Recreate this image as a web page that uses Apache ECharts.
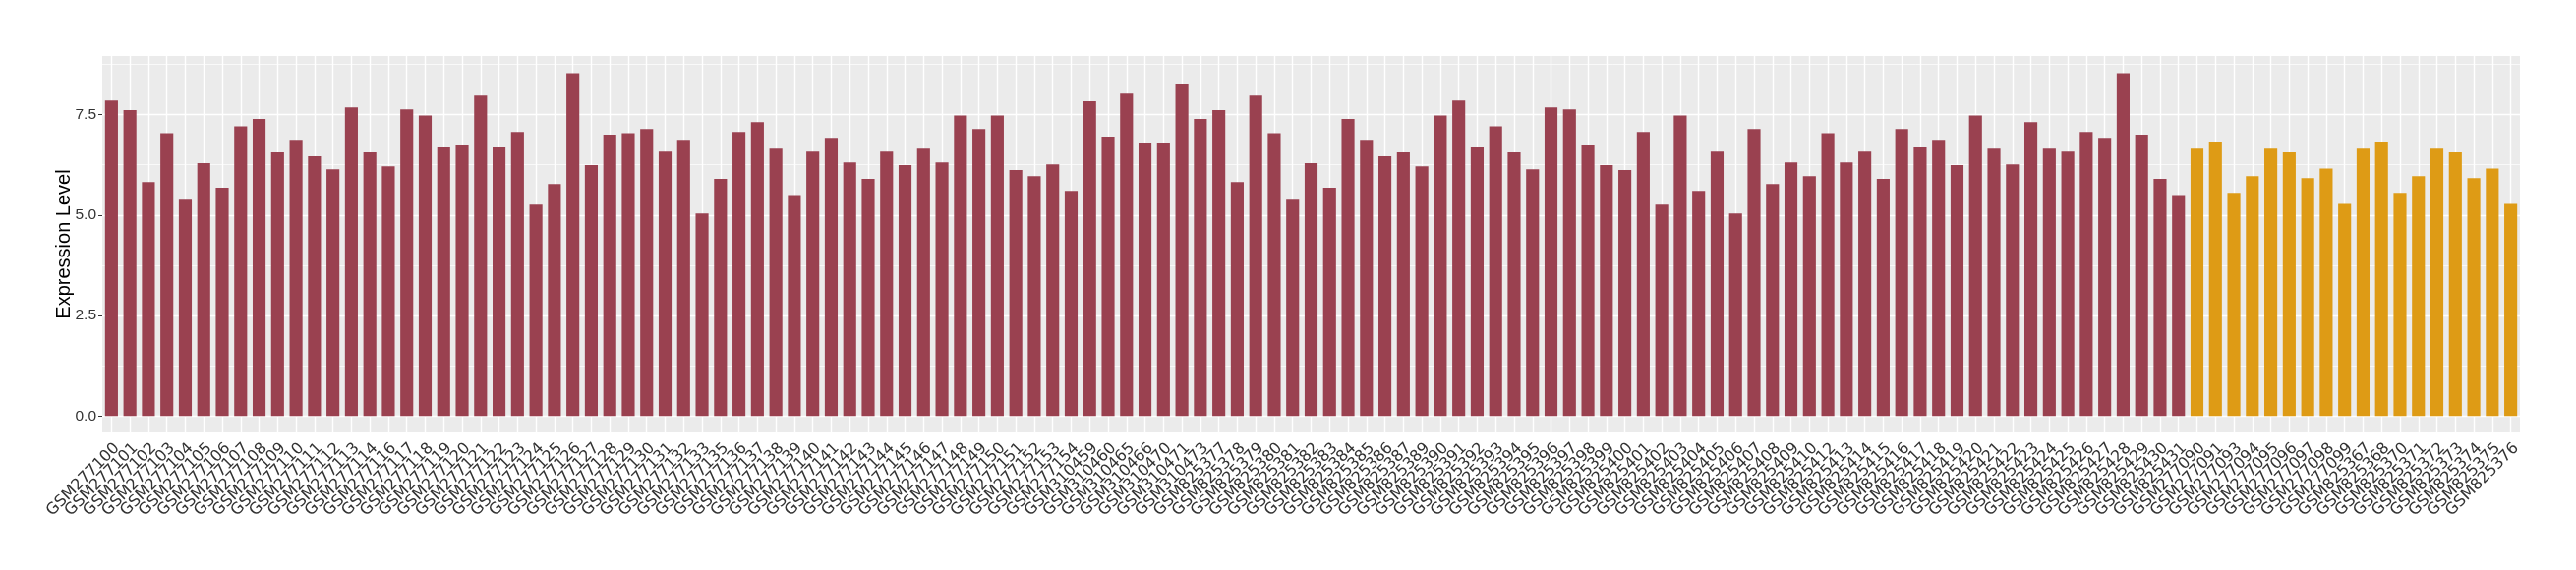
<!DOCTYPE html>
<html>
<head>
<meta charset="utf-8">
<script src="https://cdn.jsdelivr.net/npm/echarts@6/dist/echarts.min.js"></script>
<style>
  html, body { margin: 0; padding: 0; background: #fff; }
  #chart { width: 2620px; height: 580px; }
</style>
</head>
<body>
<div id="chart"></div>
<script>
// group 1 samples (dark red)
const groupA = [
  "GSM277100", "GSM277101", "GSM277102", "GSM277103", "GSM277104", "GSM277105", "GSM277106",
  "GSM277107", "GSM277108", "GSM277109", "GSM277110", "GSM277111", "GSM277112", "GSM277113",
  "GSM277114", "GSM277116", "GSM277117", "GSM277118", "GSM277119", "GSM277120", "GSM277121",
  "GSM277122", "GSM277123", "GSM277124", "GSM277125", "GSM277126", "GSM277127", "GSM277128",
  "GSM277129", "GSM277130", "GSM277131", "GSM277132", "GSM277133", "GSM277135", "GSM277136",
  "GSM277137", "GSM277138", "GSM277139", "GSM277140", "GSM277141", "GSM277142", "GSM277143",
  "GSM277144", "GSM277145", "GSM277146", "GSM277147", "GSM277148", "GSM277149", "GSM277150",
  "GSM277151", "GSM277152", "GSM277153", "GSM277154", "GSM310459", "GSM310460", "GSM310465",
  "GSM310466", "GSM310470", "GSM310471", "GSM310473", "GSM825377", "GSM825378", "GSM825379",
  "GSM825380", "GSM825381", "GSM825382", "GSM825383", "GSM825384", "GSM825385", "GSM825386",
  "GSM825387", "GSM825389", "GSM825390", "GSM825391", "GSM825392", "GSM825393", "GSM825394",
  "GSM825395", "GSM825396", "GSM825397", "GSM825398", "GSM825399", "GSM825400", "GSM825401",
  "GSM825402", "GSM825403", "GSM825404", "GSM825405", "GSM825406", "GSM825407", "GSM825408",
  "GSM825409", "GSM825410", "GSM825412", "GSM825413", "GSM825414", "GSM825415", "GSM825416",
  "GSM825417", "GSM825418", "GSM825419", "GSM825420", "GSM825421", "GSM825422", "GSM825423",
  "GSM825424", "GSM825425", "GSM825426", "GSM825427", "GSM825428", "GSM825429", "GSM825430",
  "GSM825431"
];
const valuesA = [
  7.85, 7.61, 5.82, 7.04, 5.38, 6.29, 5.68,
  7.21, 7.39, 6.56, 6.87, 6.46, 6.14, 7.68,
  6.56, 6.21, 7.63, 7.48, 6.68, 6.73, 7.97,
  6.68, 7.07, 5.26, 5.77, 8.53, 6.24, 7.00,
  7.04, 7.14, 6.58, 6.87, 5.04, 5.90, 7.07,
  7.31, 6.65, 5.50, 6.58, 6.92, 6.31, 5.90,
  6.58, 6.24, 6.65, 6.31, 7.48, 7.14, 7.48,
  6.12, 5.97, 6.26, 5.60, 7.83, 6.95, 8.02,
  6.78, 6.78, 8.27, 7.39, 7.61, 5.82, 7.97,
  7.04, 5.38, 6.29, 5.68, 7.39, 6.87, 6.46,
  6.56, 6.21, 7.48, 7.85, 6.68, 7.21, 6.56,
  6.14, 7.68, 7.63, 6.73, 6.24, 6.12, 7.07,
  5.26, 7.48, 5.60, 6.58, 5.04, 7.14, 5.77,
  6.31, 5.97, 7.04, 6.31, 6.58, 5.90, 7.14,
  6.68, 6.87, 6.24, 7.48, 6.65, 6.26, 7.31,
  6.65, 6.58, 7.07, 6.92, 8.53, 7.00, 5.90,
  5.50
];

// group 2 samples (orange)
const groupB = [
  "GSM277090", "GSM277091", "GSM277093", "GSM277094", "GSM277095", "GSM277096", "GSM277097",
  "GSM277098", "GSM277099", "GSM825367", "GSM825368", "GSM825370", "GSM825371", "GSM825372",
  "GSM825373", "GSM825374", "GSM825375", "GSM825376"
];
const valuesB = [
  6.65, 6.82, 5.55, 5.97, 6.65, 6.56, 5.92,
  6.16, 5.28, 6.65, 6.82, 5.55, 5.97, 6.65,
  6.56, 5.92, 6.16, 5.28
];

const yTicks = [0, 2.5, 5, 7.5];
const yMinorLines = [1.25, 3.75, 6.25, 8.75];

const colorA = "#9A4150";
const colorB = "#DE9B15";

const categories = groupA.concat(groupB);
const barData = valuesA.map(v => ({ value: v, itemStyle: { color: colorA } }))
  .concat(valuesB.map(v => ({ value: v, itemStyle: { color: colorB } })));

const chart = echarts.init(document.getElementById("chart"), null, { renderer: "canvas" });

const option = {
  animation: false,
  grid: {
    left: 104,
    right: 57,
    top: 57,
    bottom: 140,
    show: true,
    backgroundColor: "#EBEBEB",
    borderWidth: 0
  },
  xAxis: {
    type: "category",
    data: categories,
    axisLine: { show: false },
    axisTick: { alignWithLabel: true, length: 4, lineStyle: { color: "#333333", width: 1 } },
    splitLine: { show: true, alignWithLabel: true, lineStyle: { color: "#FFFFFF", width: 1.4 } },
    axisLabel: {
      interval: 0,
      rotate: 45,
      align: "right",
      verticalAlign: "top",
      margin: 8,
      fontFamily: "DejaVu Sans",
      fontSize: 16,
      color: "#333333"
    }
  },
  yAxis: {
    type: "value",
    min: -0.408,
    max: 8.957,
    name: "Expression Level",
    nameLocation: "middle",
    nameGap: 29,
    nameMoveOverlap: false,
    nameTextStyle: { fontFamily: "Liberation Sans", fontSize: 20, color: "#000000" },
    axisLine: { show: false },
    axisTick: { show: true, length: 4, customValues: yTicks, lineStyle: { color: "#333333", width: 1 } },
    axisLabel: {
      customValues: yTicks,
      margin: 6,
      fontFamily: "Liberation Sans",
      fontSize: 15.5,
      color: "#333333",
      formatter: v => v.toFixed(1)
    },
    splitLine: { show: true, lineStyle: { color: "#FFFFFF", width: 1.4 } }
  },
  series: [
    {
      type: "bar",
      data: barData,
      barWidth: "70%",
      z: 2,
      markLine: {
        silent: true,
        z: 1,
        symbol: "none",
        label: { show: false },
        lineStyle: { color: "#FFFFFF", width: 0.7, type: "solid" },
        data: yMinorLines.map(v => ({ yAxis: v }))
      }
    }
  ]
};

chart.setOption(option);
</script>
</body>
</html>
